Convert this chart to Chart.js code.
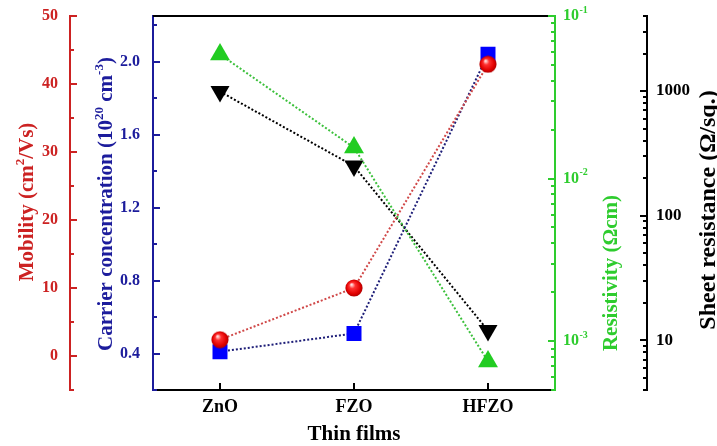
<!DOCTYPE html>
<html>
<head>
<meta charset="utf-8">
<script src="https://cdn.jsdelivr.net/npm/chart.js@4.4.1/dist/chart.umd.min.js"></script>
<style>
  html, body { margin: 0; padding: 0; background: #fff; }
  canvas { display: block; }
</style>
</head>
<body>
<canvas id="chart" width="717" height="446"></canvas>
<script>
// categories and values
const films = ["ZnO", "FZO", "HFZO"];
const mobility = [2.4, 10.0, 42.9];          // cm2/Vs
const carrier = [0.41, 0.51, 2.04];          // 10^20 cm-3
const resistivity = [0.058, 0.0155, 0.00075]; // ohm cm
const sheetRes = [990, 250, 12];             // ohm/sq

// tick values
const mobTicks = [0, 10, 20, 30, 40, 50];
const mobMinor = [-5, 5, 15, 25, 35, 45];
const carTicks = [0.4, 0.8, 1.2, 1.6, 2.0];
const carMinor = [0.2, 0.6, 1.0, 1.4, 1.8, 2.2];
const resTicks = [1e-3, 1e-2, 1e-1];
const sheetTicks = [10, 100, 1000];

const FONT = '"Liberation Serif", "Times New Roman", serif';
const RED = "#cc2222", BLUE = "#1c1c9c", GREEN = "#2ecc2e", BLACK = "#000";

//minor ticks of the log axes, 2..9 in each decade
function logMinor(min, max) {
  const out = [];
  for (let d = Math.floor(Math.log10(min)); d <= Math.ceil(Math.log10(max)); d++) {
    for (let k = 2; k <= 9; k++) {
      const v = k * Math.pow(10, d);
      if (v >= min * 0.999 && v <= max * 1.001) out.push(v);
    }
  }
  return out;
}

//red shaded ball used as point style for mobility
const ball = document.createElement("canvas");
ball.width = 18; ball.height = 18;
(() => {
  const c = ball.getContext("2d");
  const g = c.createRadialGradient(6.5, 5.5, 0.5, 9, 9, 9);
  g.addColorStop(0, "#ffe0e0");
  g.addColorStop(0.3, "#ff3030");
  g.addColorStop(0.75, "#e00000");
  g.addColorStop(1, "#a80000");
  c.fillStyle = g;
  c.beginPath();
  c.arc(9, 9, 8.6, 0, Math.PI * 2);
  c.fill();
})();

const fixTicks = (vals) => (s) => { s.ticks = vals.map(v => ({ value: v })); };
//fixed axis width, and no extra label padding pushing the plot area
const fixWidth = (w) => (s) => {
  s.width = w;
  s.paddingTop = 0; s.paddingBottom = 0;
};

//rich rotated text, segments with sup flag
function drawRotated(ctx, segs, bx, cy, size, color) {
  ctx.save();
  ctx.fillStyle = color;
  const supSize = Math.round(size * 0.62);
  let total = 0;
  segs.forEach(s => {
    ctx.font = "bold " + (s.sup ? supSize : size) + "px " + FONT;
    s.w = ctx.measureText(s.t).width;
    total += s.w;
  });
  ctx.translate(bx, cy);
  ctx.rotate(-Math.PI / 2);
  ctx.textBaseline = "alphabetic";
  ctx.textAlign = "left";
  let x = -total / 2;
  segs.forEach(s => {
    ctx.font = "bold " + (s.sup ? supSize : size) + "px " + FONT;
    ctx.fillText(s.t, x, s.sup ? -size * 0.42 : 0);
    x += s.w;
  });
  ctx.restore();
}

function drawTicks(ctx, scale, vals, len, color) {
  const left = scale.position === "left";
  const x0 = left ? scale.right : scale.left;
  const sgn = left ? 1 : -1;
  ctx.strokeStyle = color;
  ctx.lineWidth = 2;
  vals.forEach(v => {
    const y = Math.round(scale.getPixelForValue(v));
    ctx.beginPath();
    ctx.moveTo(x0, y);
    ctx.lineTo(x0 + sgn * len, y);
    ctx.stroke();
  });
}

const decorPlugin = {
  id: "decor",
  afterDraw(chart) {
    const { ctx, chartArea: a, scales } = chart;
    ctx.save();
    // top frame line
    ctx.strokeStyle = BLACK;
    ctx.lineWidth = 2;
    ctx.beginPath();
    ctx.moveTo(a.left, a.top);
    ctx.lineTo(a.right, a.top);
    ctx.stroke();

    drawTicks(ctx, scales.yMob, mobTicks, 7, RED);
    drawTicks(ctx, scales.yMob, mobMinor, 4, RED);
    drawTicks(ctx, scales.yCar, carTicks, 7, BLUE);
    drawTicks(ctx, scales.yCar, carMinor, 4, BLUE);
    drawTicks(ctx, scales.yRes, resTicks, 7, GREEN);
    drawTicks(ctx, scales.yRes, logMinor(5e-4, 0.1), 4, GREEN);
    drawTicks(ctx, scales.ySheet, sheetTicks, 7, BLACK);
    drawTicks(ctx, scales.ySheet, logMinor(4, 4000), 4, BLACK);

    // x ticks pointing up
    const xs = scales.x;
    ctx.strokeStyle = BLACK;
    films.forEach((f, i) => {
      const x = Math.round(xs.getPixelForValue(i));
      ctx.beginPath();
      ctx.moveTo(x, a.bottom);
      ctx.lineTo(x, a.bottom - 7);
      ctx.stroke();
    });

    // resistivity labels 10^n
    const yr = scales.yRes;
    ctx.fillStyle = GREEN;
    ctx.textBaseline = "middle";
    ctx.textAlign = "left";
    resTicks.forEach(v => {
      const y = yr.getPixelForValue(v);
      ctx.font = "bold 16px " + FONT;
      ctx.fillText("10", yr.left + 8, y);
      const w = ctx.measureText("10").width;
      ctx.font = "bold 10px " + FONT;
      ctx.fillText("-" + Math.round(-Math.log10(v)), yr.left + 8 + w + 0.5, y - 6);
    });

    // axis titles
    drawRotated(ctx, [{ t: "Mobility (cm" }, { t: "2", sup: true }, { t: "/Vs)" }], 33, 202, 21, RED);
    drawRotated(ctx, [{ t: "Carrier concentration (10" }, { t: "20", sup: true }, { t: " cm" }, { t: "-3", sup: true }, { t: ")" }], 112, 204, 21, BLUE);
    drawRotated(ctx, [{ t: "Resistivity (\u03A9cm)" }], 617, 273, 21, GREEN);
    drawRotated(ctx, [{ t: "Sheet resistance (\u03A9/sq.)" }], 715, 210, 24, BLACK);

    ctx.fillStyle = BLACK;
    ctx.font = "bold 21px " + FONT;
    ctx.textAlign = "center";
    ctx.textBaseline = "alphabetic";
    ctx.fillText("Thin films", (a.left + a.right) / 2, 440);
    ctx.restore();
  }
};

const lineBase = { borderWidth: 2, borderDash: [2, 2], fill: false, tension: 0 };

new Chart(document.getElementById("chart"), {
  type: "line",
  plugins: [decorPlugin],
  data: {
    labels: films,
    datasets: [
      { ...lineBase, label: "Mobility", data: mobility, yAxisID: "yMob", order: 0,
        borderColor: "#d04848", pointStyle: ball, pointRadius: 9 },
      { ...lineBase, label: "Carrier concentration", data: carrier, yAxisID: "yCar", order: 1,
        borderColor: "#1e1e78", pointStyle: "rect", pointRadius: 10.6,
        pointBackgroundColor: "#0000ff", pointBorderColor: "#0000ff", pointBorderWidth: 0 },
      { ...lineBase, label: "Resistivity", data: resistivity, yAxisID: "yRes", order: 2,
        borderColor: "#3cc03c", pointStyle: "triangle", pointRadius: 11.5,
        pointBackgroundColor: "#22cc22", pointBorderColor: "#22cc22", pointBorderWidth: 0 },
      { ...lineBase, label: "Sheet resistance", data: sheetRes, yAxisID: "ySheet", order: 3,
        borderColor: "#000", pointStyle: "triangle", pointRotation: 180, pointRadius: 11,
        pointBackgroundColor: "#000", pointBorderColor: "#000", pointBorderWidth: 0 },
    ],
  },
  options: {
    responsive: false,
    animation: false,
    layout: { padding: { top: 16, left: 0, right: 0, bottom: 0 } },
    plugins: { legend: { display: false }, tooltip: { enabled: false } },
    scales: {
      x: {
        type: "category",
        offset: true,
        afterFit: (s) => { s.height = 56; s.paddingLeft = 0; s.paddingRight = 0; },
        grid: { drawOnChartArea: false, drawTicks: false },
        border: { color: BLACK, width: 2 },
        ticks: { color: BLACK, padding: 7, font: { family: FONT, size: 18, weight: "bold" } },
      },
      yMob: {
        type: "linear", position: "left", weight: 1,
        min: -5, max: 50,
        afterBuildTicks: fixTicks(mobTicks),
        afterFit: fixWidth(70),
        grid: { drawOnChartArea: false, drawTicks: false },
        border: { color: RED, width: 2 },
        ticks: { color: RED, padding: 12, font: { family: FONT, size: 16, weight: "bold" },
                 callback: (v) => String(v) },
      },
      yCar: {
        type: "linear", position: "left", weight: 0,
        min: 0.2, max: 2.25,
        afterBuildTicks: fixTicks(carTicks),
        afterFit: fixWidth(83),
        grid: { drawOnChartArea: false, drawTicks: false },
        border: { color: BLUE, width: 2 },
        ticks: { color: BLUE, padding: 13, font: { family: FONT, size: 16, weight: "bold" },
                 callback: (v) => Number(v).toFixed(1) },
      },
      yRes: {
        type: "logarithmic", position: "right", weight: 0,
        min: 5e-4, max: 0.1,
        afterBuildTicks: fixTicks(resTicks),
        afterFit: fixWidth(92),
        grid: { drawOnChartArea: false, drawTicks: false },
        border: { color: GREEN, width: 2 },
        ticks: { display: false },
      },
      ySheet: {
        type: "logarithmic", position: "right", weight: 1,
        min: 4, max: 4000,
        afterBuildTicks: fixTicks(sheetTicks),
        afterFit: fixWidth(70),
        grid: { drawOnChartArea: false, drawTicks: false },
        border: { color: BLACK, width: 2 },
        ticks: { color: BLACK, padding: 9, font: { family: FONT, size: 17, weight: "bold" },
                 callback: (v) => String(v) },
      },
    },
  },
});
</script>
</body>
</html>
